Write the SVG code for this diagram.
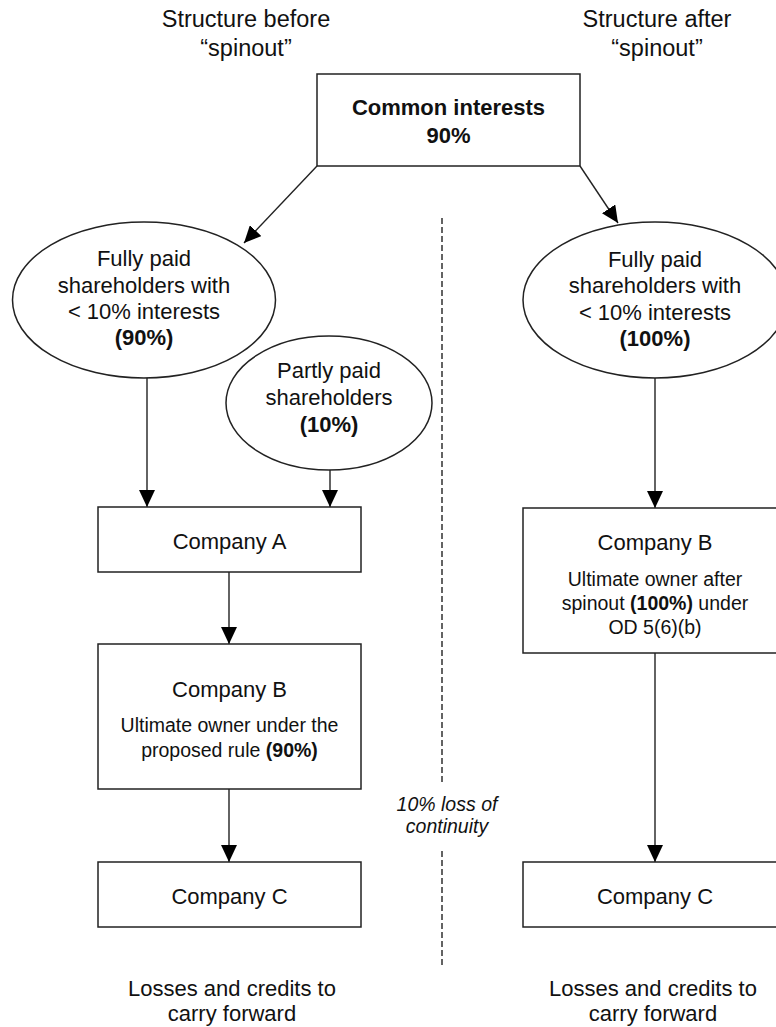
<svg xmlns="http://www.w3.org/2000/svg" width="776" height="1027" viewBox="0 0 776 1027">
<defs>
<marker id="arr" markerUnits="userSpaceOnUse" markerWidth="17" markerHeight="16" refX="17" refY="8" orient="auto">
<path d="M0,0 L17,8 L0,16 Z" fill="#000"/>
</marker>
<style>
.t{font-family:"Liberation Sans",Arial,sans-serif;font-size:22px;fill:#111;text-anchor:middle}
.s{font-size:19.5px}
.h{font-size:23.5px}
.b{font-weight:bold}
.i{font-style:italic;font-size:19.5px}
.n{fill:#fff;stroke:#222;stroke-width:1.5}
.c{fill:none;stroke:#222;stroke-width:1.4}
.d{fill:none;stroke:#222;stroke-width:1.4;stroke-dasharray:6 3}
</style>
</defs>
<rect width="776" height="1027" fill="#fff"/>
<g id="titles">
<text class="t h" x="246" y="27">Structure before</text>
<text class="t h" x="246" y="56">“spinout”</text>
<text class="t h" x="657" y="27">Structure after</text>
<text class="t h" x="657" y="56">“spinout”</text>
</g>
<g id="divider">
<path class="d" d="M442,218 L442,782"/>
<path class="d" d="M442,851 L442,967"/>
<text class="t i" x="447" y="811">10% loss of</text>
<text class="t i" x="447" y="833">continuity</text>
</g>
<g id="connectors">
<path class="c" d="M317,166 L244,243" marker-end="url(#arr)"/>
<path class="c" d="M580,166 L618,223" marker-end="url(#arr)"/>
<path class="c" d="M147,378 L147,507" marker-end="url(#arr)"/>
<path class="c" d="M330,470 L330,507" marker-end="url(#arr)"/>
<path class="c" d="M229,572 L229,644" marker-end="url(#arr)"/>
<path class="c" d="M229,789 L229,862" marker-end="url(#arr)"/>
<path class="c" d="M655,378 L655,508" marker-end="url(#arr)"/>
<path class="c" d="M655,653 L655,862" marker-end="url(#arr)"/>
</g>
<g id="common">
<rect class="n" x="317" y="74" width="263" height="92"/>
<text class="t b" x="448.5" y="115">Common interests</text>
<text class="t b" x="448.5" y="143">90%</text>
</g>
<g id="fully-before">
<ellipse class="n" cx="144" cy="300" rx="131.5" ry="78"/>
<text class="t" x="144" y="266">Fully paid</text>
<text class="t" x="144" y="293">shareholders with</text>
<text class="t" x="144" y="319">&lt; 10% interests</text>
<text class="t b" x="144" y="345">(90%)</text>
</g>
<g id="partly">
<ellipse class="n" cx="329" cy="403" rx="103" ry="67"/>
<text class="t" x="329" y="378">Partly paid</text>
<text class="t" x="329" y="405">shareholders</text>
<text class="t b" x="329" y="432">(10%)</text>
</g>
<g id="companyA">
<rect class="n" x="98" y="507" width="263" height="65"/>
<text class="t" x="229.5" y="549">Company A</text>
</g>
<g id="companyB-before">
<rect class="n" x="98" y="644" width="263" height="145"/>
<text class="t" x="229.5" y="697">Company B</text>
<text class="t s" x="229.5" y="732">Ultimate owner under the</text>
<text class="t s" x="229.5" y="757">proposed rule <tspan class="b">(90%)</tspan></text>
</g>
<g id="companyC-before">
<rect class="n" x="98" y="862" width="263" height="65"/>
<text class="t" x="229.5" y="904">Company C</text>
</g>
<g id="fully-after">
<ellipse class="n" cx="655" cy="300" rx="132" ry="78"/>
<text class="t" x="655" y="267">Fully paid</text>
<text class="t" x="655" y="293">shareholders with</text>
<text class="t" x="655" y="320">&lt; 10% interests</text>
<text class="t b" x="655" y="346">(100%)</text>
</g>
<g id="companyB-after">
<rect class="n" x="523" y="508" width="264" height="145"/>
<text class="t" x="655" y="550">Company B</text>
<text class="t s" x="655" y="586">Ultimate owner after</text>
<text class="t s" x="655" y="610">spinout <tspan class="b">(100%)</tspan> under</text>
<text class="t s" x="655" y="634">OD 5(6)(b)</text>
</g>
<g id="companyC-after">
<rect class="n" x="523" y="862" width="264" height="65"/>
<text class="t" x="655" y="904">Company C</text>
</g>
<g id="footers">
<text class="t" x="232" y="996">Losses and credits to</text>
<text class="t" x="232" y="1021">carry forward</text>
<text class="t" x="653" y="996">Losses and credits to</text>
<text class="t" x="653" y="1021">carry forward</text>
</g>
</svg>
